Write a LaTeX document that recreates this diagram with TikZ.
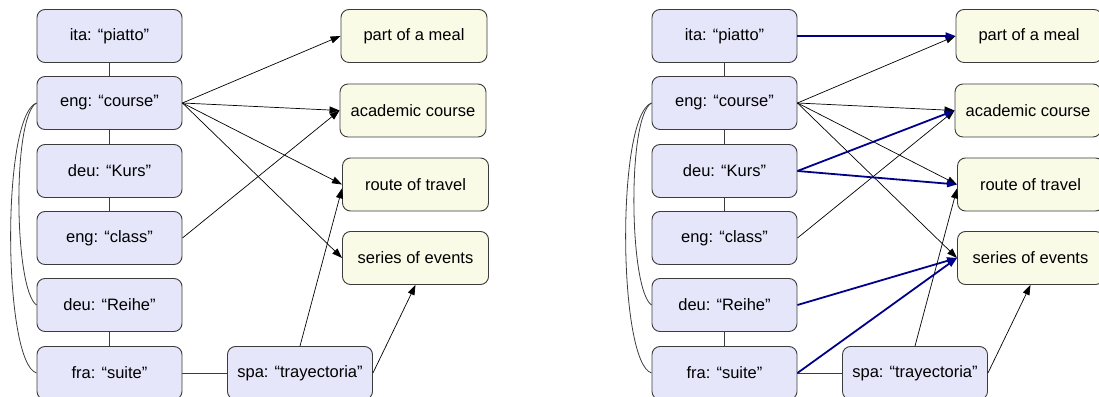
\documentclass[tikz,border=0pt]{standalone}
\usepackage{fontspec}
\setmainfont{Liberation Sans}
\usepackage{xcolor}
\usepackage{tikz}
\usetikzlibrary{arrows.meta,calc,positioning}

\definecolor{wordfill}{RGB}{230,230,250}
\definecolor{sensefill}{RGB}{250,251,231}
\definecolor{boxline}{RGB}{60,60,60}
\definecolor{pickblue}{RGB}{0,0,139}

\tikzset{
  word/.style={draw=boxline, fill=wordfill, rounded corners=8pt, line width=0.9pt,
    minimum width=145pt, minimum height=53pt, inner sep=0pt},
  sense/.style={draw=boxline, fill=sensefill, rounded corners=8pt, line width=0.9pt,
    minimum width=146pt, minimum height=53pt, inner sep=0pt},
  link/.style={draw=boxline, line width=0.8pt},
  arr/.style={-{Triangle[length=10pt,width=7pt]}, line width=0.7pt},
  pick/.style={-{Triangle[length=10pt,width=7pt]}, draw=pickblue, fill=pickblue, line width=1.8pt}
}

\begin{document}
\begin{tikzpicture}[x=1pt, y=1pt, font=\fontsize{16.5}{19}\selectfont]

  \useasboundingbox (0,0) rectangle (1099,396);
  \clip (0,0) rectangle (1099,396);

  % left panel
  \node[word] (lita) at (109.5,360) {ita: “piatto”};
  \node[word] (lcourse) at (109.5,293) {eng: “course”};
  \node[word] (lkurs) at (109.5,225) {deu: “Kurs”};
  \node[word] (lclass) at (109.5,158) {eng: “class”};
  \node[word] (lreihe) at (109.5,91) {deu: “Reihe”};
  \node[word] (lsuite) at (109.5,23) {fra: “suite”};
  \node[word] (lspa) at (300,23) {spa: “trayectoria”};

  \node[sense] (lmeal) at (414,360) {part of a meal};
  \node[sense] (lacad) at (413,285.5) {academic course};
  \node[sense] (lroute) at (415.5,211.5) {route of travel};
  \node[sense] (lseries) at (415.5,138) {series of events};

  \draw[link] (lita) -- (lcourse);
  \draw[link] (lcourse) -- (lkurs);
  \draw[link] (lkurs) -- (lclass);
  \draw[link] (lreihe) -- (lsuite);
  \draw[link] (lsuite) -- (lspa);
  \draw[link] (lcourse.west) .. controls (12,280) and (14,106) .. (lreihe.west);
  \draw[link] (lcourse.west) .. controls (1,280) and (3,33) .. (lsuite.west);

  \draw[arr] (lcourse.east) -- (lmeal.west);
  \draw[arr] (lcourse.east) -- (lacad.west);
  \draw[arr] (lcourse.east) -- (lroute.west);
  \draw[arr] (lcourse.east) -- (lseries.west);
  \draw[arr] (lclass.east) -- (lacad.west);
  \draw[arr] (lspa.north) -- (lroute.183);
  \draw[arr] (lspa.east) -- (lseries.south);

  % right panel
  \node[word] (rita) at (724.5,360) {ita: “piatto”};
  \node[word] (rcourse) at (724.5,293) {eng: “course”};
  \node[word] (rkurs) at (724.5,225) {deu: “Kurs”};
  \node[word] (rclass) at (724.5,158) {eng: “class”};
  \node[word] (rreihe) at (724.5,91) {deu: “Reihe”};
  \node[word] (rsuite) at (724.5,23) {fra: “suite”};
  \node[word] (rspa) at (915,23) {spa: “trayectoria”};

  \node[sense] (rmeal) at (1029,360) {part of a meal};
  \node[sense] (racad) at (1028,285.5) {academic course};
  \node[sense] (rroute) at (1030.5,211.5) {route of travel};
  \node[sense] (rseries) at (1030.5,138) {series of events};

  \draw[link] (rita) -- (rcourse);
  \draw[link] (rcourse) -- (rkurs);
  \draw[link] (rkurs) -- (rclass);
  \draw[link] (rreihe) -- (rsuite);
  \draw[link] (rsuite) -- (rspa);
  \draw[link] (rcourse.west) .. controls (627,280) and (629,106) .. (rreihe.west);
  \draw[link] (rcourse.west) .. controls (616,280) and (618,33) .. (rsuite.west);

  \draw[arr] (rcourse.east) -- (rmeal.west);
  \draw[arr] (rcourse.east) -- (racad.west);
  \draw[arr] (rcourse.east) -- (rroute.west);
  \draw[arr] (rcourse.east) -- (rseries.west);
  \draw[arr] (rclass.east) -- (racad.west);
  \draw[arr] (rspa.north) -- (rroute.183);
  \draw[arr] (rspa.east) -- (rseries.south);

  \draw[pick] (rita.east) -- (rmeal.west);
  \draw[pick] (rkurs.east) -- (racad.west);
  \draw[pick] (rkurs.east) -- (rroute.west);
  \draw[pick] (rreihe.east) -- (rseries.west);
  \draw[pick] (rsuite.east) -- (rseries.west);

\end{tikzpicture}
\end{document}
